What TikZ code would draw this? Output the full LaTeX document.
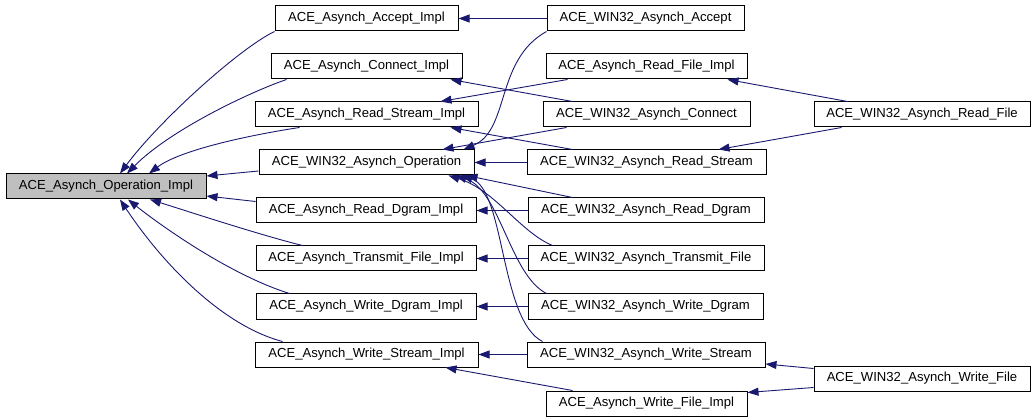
\documentclass[tikz,border=0pt]{standalone}
\usepackage{fontspec}
\setmainfont{Liberation Sans}
\usetikzlibrary{arrows.meta}
\definecolor{edgeblue}{RGB}{25,25,112}
\definecolor{rootgray}{RGB}{191,191,191}
\tikzset{
  classbox/.style={draw=black, fill=white, line width=1pt, minimum width=#1pt, minimum height=25pt, inner sep=0pt, font=\fontsize{13.1}{15}\selectfont},
  inherit/.style={draw=edgeblue, line width=0.9pt, -{Triangle[length=11pt,width=8pt,fill=edgeblue]}}
}
\begin{document}
\begin{tikzpicture}[x=1pt,y=-1pt]
\useasboundingbox (0,0) rectangle (1035,419);

% Class Node
\node [classbox=200, fill=rootgray] (asynchop) at (106,186.5) {ACE\_Asynch\_Operation\_Impl};
% Class Node
\node [classbox=183] (acceptimpl) at (366.5,18.5) {ACE\_Asynch\_Accept\_Impl};
% Class Node
\node [classbox=191] (connectimpl) at (366.5,66.5) {ACE\_Asynch\_Connect\_Impl};
% Class Node
\node [classbox=223] (readstreamimpl) at (366.5,114.5) {ACE\_Asynch\_Read\_Stream\_Impl};
% Class Node
\node [classbox=215] (winop) at (366.5,162.5) {ACE\_WIN32\_Asynch\_Operation};
% Class Node
\node [classbox=220] (readdgramimpl) at (366,210.5) {ACE\_Asynch\_Read\_Dgram\_Impl};
% Class Node
\node [classbox=220] (transmitimpl) at (366,258.5) {ACE\_Asynch\_Transmit\_File\_Impl};
% Class Node
\node [classbox=220] (writedgramimpl) at (366,306.5) {ACE\_Asynch\_Write\_Dgram\_Impl};
% Class Node
\node [classbox=223] (writestreamimpl) at (366.5,354.5) {ACE\_Asynch\_Write\_Stream\_Impl};
% Class Node
\node [classbox=197] (winaccept) at (645.5,18.5) {ACE\_WIN32\_Asynch\_Accept};
% Class Node
\node [classbox=201] (readfileimpl) at (646.5,66.5) {ACE\_Asynch\_Read\_File\_Impl};
% Class Node
\node [classbox=207] (winconnect) at (646.5,114.5) {ACE\_WIN32\_Asynch\_Connect};
% Class Node
\node [classbox=239] (winreadstream) at (646.5,162.5) {ACE\_WIN32\_Asynch\_Read\_Stream};
% Class Node
\node [classbox=236] (winreaddgram) at (646,210.5) {ACE\_WIN32\_Asynch\_Read\_Dgram};
% Class Node
\node [classbox=236] (wintransmit) at (646,258.5) {ACE\_WIN32\_Asynch\_Transmit\_File};
% Class Node
\node [classbox=235] (winwritedgram) at (645.5,306.5) {ACE\_WIN32\_Asynch\_Write\_Dgram};
% Class Node
\node [classbox=238] (winwritestream) at (646,354.5) {ACE\_WIN32\_Asynch\_Write\_Stream};
% Class Node
\node [classbox=201] (writefileimpl) at (646.5,403.5) {ACE\_Asynch\_Write\_File\_Impl};
% Class Node
\node [classbox=216] (winreadfile) at (922,114.5) {ACE\_WIN32\_Asynch\_Read\_File};
% Class Node
\node [classbox=216] (winwritefile) at (922,378.5) {ACE\_WIN32\_Asynch\_Write\_File};

% Connector
\draw [inherit] (acceptimpl.south west) .. controls (240,48) and (160,120) .. ([xshift=14]asynchop.north);
% Connector
\draw [inherit] ([xshift=16]connectimpl.south west) .. controls (250,92) and (170,130) .. ([xshift=21]asynchop.north);
% Connector
\draw [inherit] ([xshift=45]readstreamimpl.south west) .. controls (250,135) and (180,150) .. ([xshift=43]asynchop.north);
% Connector
\draw [inherit] ([yshift=-8.5]winop.west) -- ([yshift=10.5]asynchop.east);
% Connector
\draw [inherit] ([yshift=9]readdgramimpl.west) -- ([yshift=-9.5]asynchop.east);
% Connector
\draw [inherit] ([xshift=47]transmitimpl.north west) .. controls (260,235) and (190,212) .. ([xshift=44]asynchop.south);
% Connector
\draw [inherit] ([xshift=34]writedgramimpl.north west) .. controls (230,275) and (160,225) .. ([xshift=22]asynchop.south);
% Connector
\draw [inherit] ([xshift=28]writestreamimpl.north west) .. controls (220,325) and (160,260) .. ([xshift=14]asynchop.south);

% Connector
\draw [inherit] (winaccept.west) -- (acceptimpl.east);
% Connector
\draw [inherit] ([xshift=30]winconnect.north west) -- ([xshift=-12]connectimpl.south east);
% Connector
\draw [inherit] ([xshift=22]readfileimpl.south west) -- ([xshift=-38]readstreamimpl.north east);
% Connector
\draw [inherit] ([xshift=46]winreadstream.north west) -- ([xshift=-28]readstreamimpl.south east);
% Connector
\draw [inherit] (winaccept.south west) .. controls (495,60) and (510,130) .. ([xshift=-11]winop.north east);
% Connector
\draw [inherit] ([xshift=24]winconnect.south west) -- ([xshift=-32]winop.north east);
% Connector
\draw [inherit] (winreadstream.west) -- (winop.east);
% Connector
\draw [inherit] ([xshift=45]winreaddgram.north west) -- ([xshift=-8]winop.south east);
% Connector
\draw [inherit] ([xshift=25]wintransmit.north west) .. controls (520,232) and (495,190) .. ([xshift=-26]winop.south east);
% Connector
\draw [inherit] ([xshift=19]winwritedgram.north west) .. controls (510,275) and (500,190) .. ([xshift=-19]winop.south east);
% Connector
\draw [inherit] ([xshift=16]winwritestream.north west) .. controls (500,320) and (505,190) .. ([xshift=-13]winop.south east);
% Connector
\draw [inherit] (winreaddgram.west) -- (readdgramimpl.east);
% Connector
\draw [inherit] (wintransmit.west) -- (transmitimpl.east);
% Connector
\draw [inherit] (winwritedgram.west) -- (writedgramimpl.east);
% Connector
\draw [inherit] (winwritestream.west) -- (writestreamimpl.east);
% Connector
\draw [inherit] ([xshift=27]writefileimpl.north west) -- ([xshift=-33]writestreamimpl.south east);

% Connector
\draw [inherit] ([xshift=34]winreadfile.north west) -- ([xshift=-20]readfileimpl.south east);
% Connector
\draw [inherit] ([xshift=28]winreadfile.south west) -- ([xshift=-48]winreadstream.north east);
% Connector
\draw [inherit] ([yshift=10]winwritefile.west) -- ([yshift=-9.5]winwritestream.east);
% Connector
\draw [inherit] ([yshift=-9]winwritefile.west) -- ([yshift=11]writefileimpl.east);
\end{tikzpicture}
\end{document}
